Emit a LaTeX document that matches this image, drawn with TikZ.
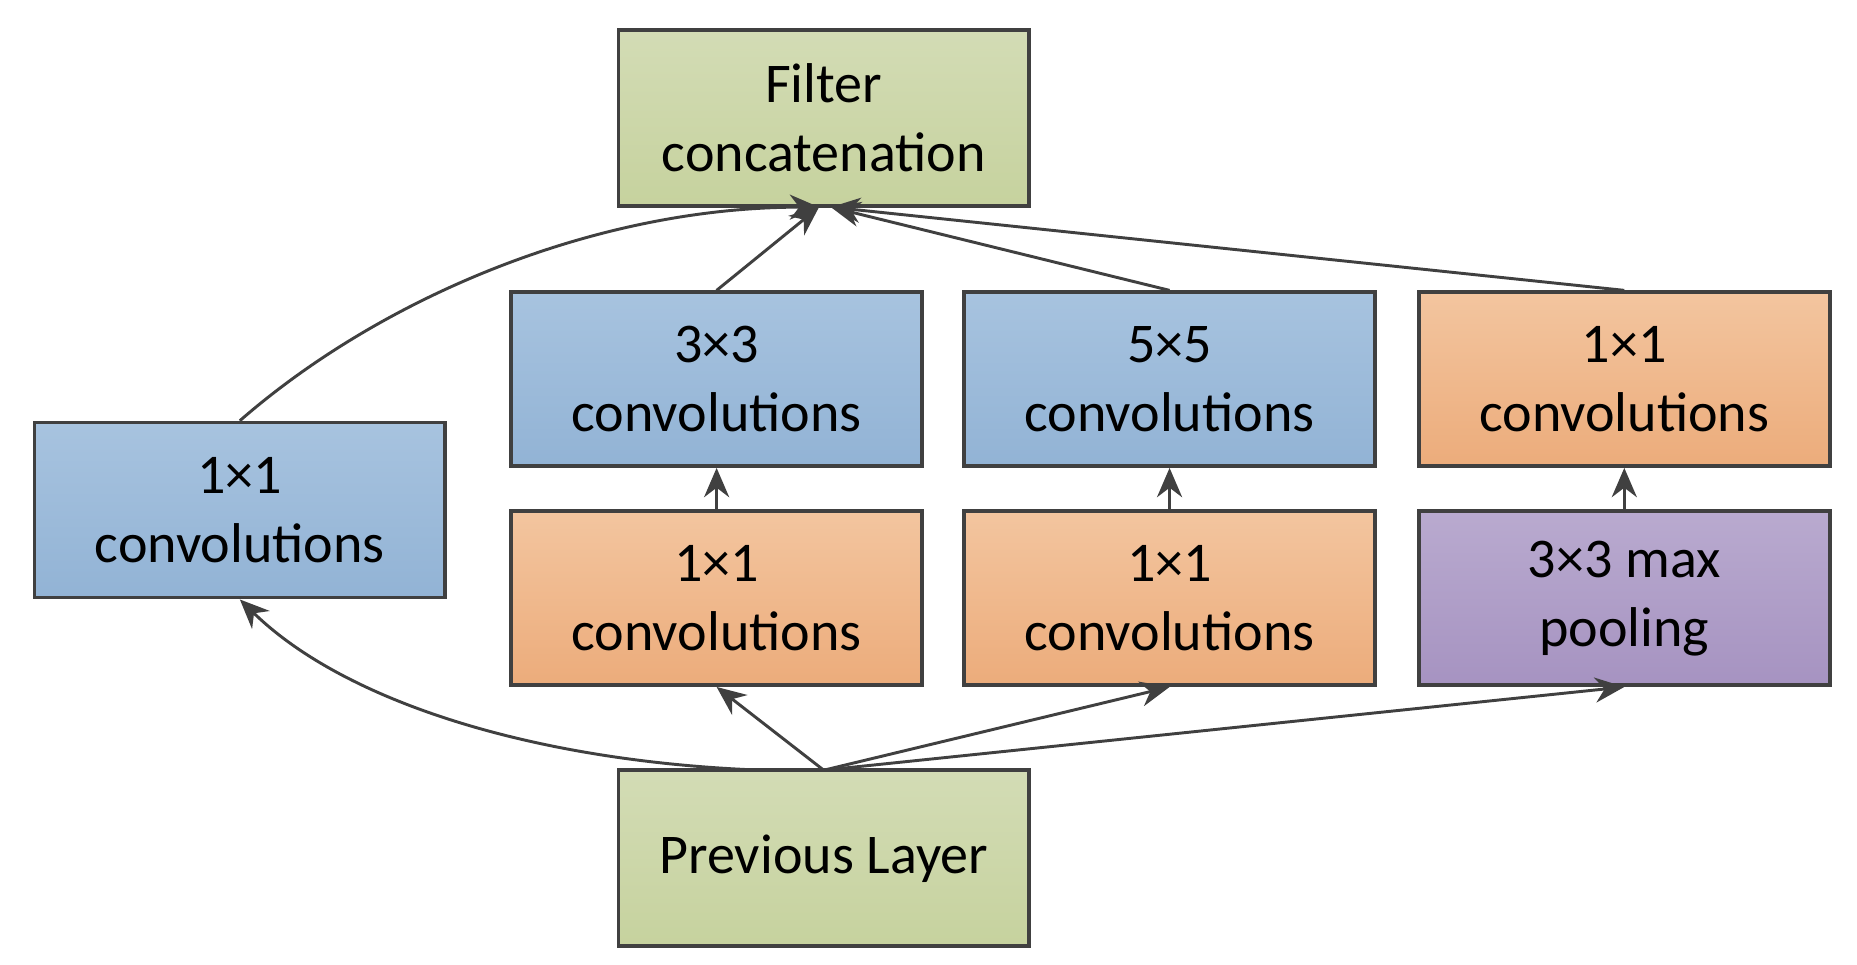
\documentclass[tikz,border=0pt]{standalone}
\usepackage{fontspec}
\setmainfont{Carlito}
\usetikzlibrary{arrows.meta}
\definecolor{gT}{HTML}{D3DCB5}\definecolor{gB}{HTML}{C6D29E}
\definecolor{bT}{HTML}{A7C3DF}\definecolor{bB}{HTML}{92B3D5}
\definecolor{oT}{HTML}{F3C59F}\definecolor{oB}{HTML}{ECAC7B}
\definecolor{pT}{HTML}{B9AACF}\definecolor{pB}{HTML}{A693C1}
\definecolor{ln}{HTML}{404040}
\tikzset{
 box/.style={draw=ln,line width=0.9pt,minimum width=3.45cm,minimum height=1.46cm,align=center,font=\fontsize{13.4}{16.5}\selectfont,inner sep=0pt},
 green/.style={box,top color=gT,bottom color=gB},
 blue/.style={box,top color=bT,bottom color=bB},
 orange/.style={box,top color=oT,bottom color=oB},
 purple/.style={box,top color=pT,bottom color=pB},
 arr/.style={draw=ln,line width=0.7pt,-{Stealth[length=7pt,width=6pt]}}
}
\begin{document}
\begin{tikzpicture}
\useasboundingbox[fill=white] (0,0) rectangle (15.6,8.1);
\node[green,minimum height=1.48cm] (fc) at (6.92,7.11) {Filter\\concatenation};
\node[green,minimum height=1.48cm] (pl) at (6.92,0.89) {Previous Layer};
\node[blue,minimum height=1.47cm] (l1) at (2.015,3.815) {1×1\\convolutions};
\node[blue] (c3) at (6.02,4.915) {3×3\\convolutions};
\node[blue] (c5) at (9.825,4.915) {5×5\\convolutions};
\node[orange] (r1) at (13.645,4.915) {1×1\\convolutions};
\node[orange] (a1) at (6.02,3.075) {1×1\\convolutions};
\node[orange] (b1) at (9.825,3.075) {1×1\\convolutions};
\node[purple] (mp) at (13.645,3.075) {3×3 max\\pooling};
\coordinate (fa) at (6.88,6.36);
\coordinate (fb) at (6.98,6.36);
\coordinate (pa) at (6.92,1.63);
\coordinate (pb) at (6.4,1.63);
% into concatenation
\draw[arr] (l1.north) .. controls (3.2,5.6) and (5.0,6.36) .. (fa);
\draw[arr] (c3.north) -- (fa);
\draw[arr] (c5.north) -- (fb);
\draw[arr] (r1.north) -- (fb);
% vertical
\draw[arr] (a1.north) -- (c3.south);
\draw[arr] (b1.south) ++(0,0) (b1.north) -- (c5.south);
\draw[arr] (mp.north) -- (r1.south);
% from previous layer
\draw[arr] (pb) .. controls (4.5,1.7) and (2.9,2.2) .. (l1.south);
\draw[arr] (pa) -- (a1.south);
\draw[arr] (pa) -- (b1.south);
\draw[arr] (pa) -- (mp.south);
\end{tikzpicture}
\end{document}
